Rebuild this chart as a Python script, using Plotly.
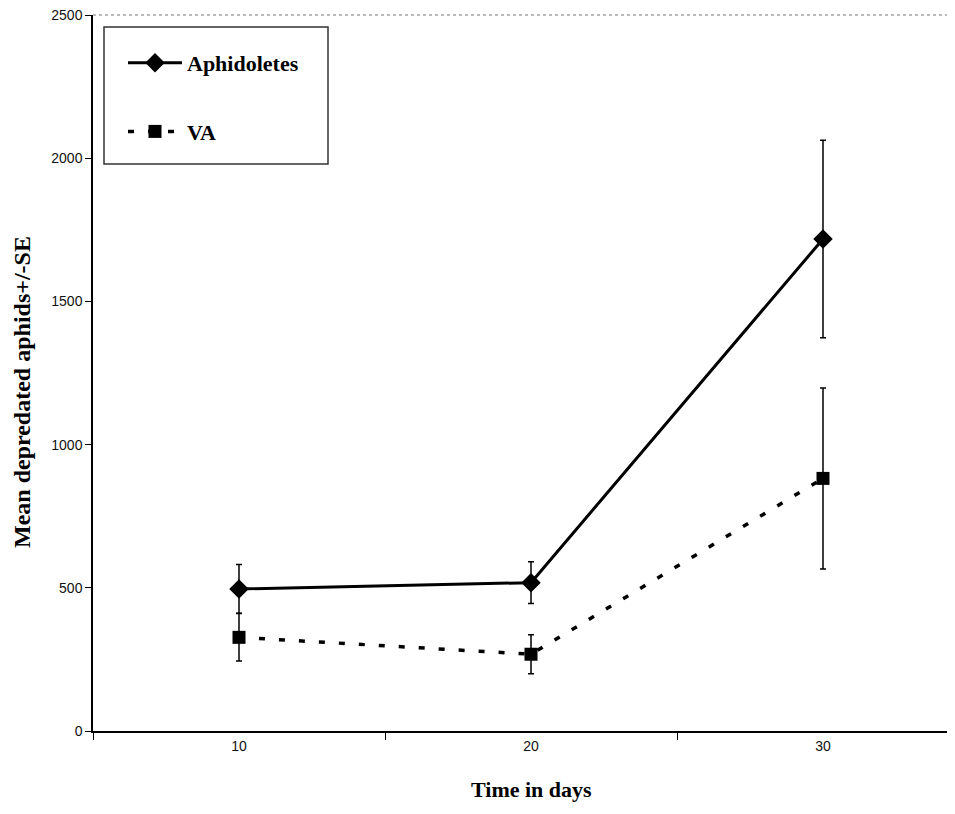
import plotly.graph_objects as go

days = [10, 20, 30]
aphidoletes_mean = [496, 518, 1718]
aphidoletes_se = [85, 73, 345]
va_mean = [327, 268, 882]
va_se = [83, 68, 316]
y_ticks = [0, 500, 1000, 1500, 2000, 2500]
x_labels = ["10", "20", "30"]
minor_x_ticks = [5, 15, 25, 35]

# page body has an 8px margin; figure placed at (8, 8) in the window
OFF = 8
W, H = 955 - 2 * OFF, 814 - 2 * OFF
L, T = 93 - OFF, 15 - OFF
B = H - (731 - OFF)
R = 0
plot_w = W - L - R
plot_h = H - T - B

serif = "Liberation Serif, Times New Roman, serif"
sans = "Liberation Sans, Arial, sans-serif"

def px_x(px):
    return (px - OFF - L) / plot_w

def px_y(py):
    return (H - B - (py - OFF)) / plot_h

fig = go.Figure()
fig.add_trace(go.Scatter(
    x=days, y=aphidoletes_mean, name="Aphidoletes", mode="lines+markers",
    legendgroup="a",
    line=dict(color="black", width=3),
    marker=dict(symbol="diamond", size=15, color="black"),
    error_y=dict(type="data", array=aphidoletes_se, visible=True,
                 color="black", thickness=1.5, width=3),
))
fig.add_trace(go.Scatter(
    x=days, y=va_mean, name="VA", mode="lines+markers",
    legendgroup="b",
    line=dict(color="black", width=3.5, dash="6px,14px"),
    marker=dict(symbol="square", size=13, color="black"),
    error_y=dict(type="data", array=va_se, visible=True,
                 color="black", thickness=1.5, width=3),
))

x0 = 5
x1 = x0 + plot_w / 29.2

fig.update_layout(
    width=W, height=H,
    margin=dict(l=L, r=R, t=T, b=B, pad=0, autoexpand=False),
    paper_bgcolor="white", plot_bgcolor="white",
    showlegend=True,
    legend=dict(
        xref="paper", yref="paper",
        x=px_x(123), y=px_y(42), xanchor="left", yanchor="top",
        bgcolor="rgba(0,0,0,0)", borderwidth=0,
        font=dict(family=serif, size=22, color="black", weight="bold"),
        tracegroupgap=37, traceorder="grouped", itemwidth=54,
    ),
    xaxis=dict(
        range=[x0, x1], showgrid=False, zeroline=False,
        showline=True, linecolor="black", linewidth=2,
        tickmode="array", tickvals=days, ticktext=x_labels, ticks="",
        ticklabelstandoff=1,
        tickfont=dict(family=sans, size=14, color="#111"),
        minor=dict(tickmode="array", tickvals=minor_x_ticks, ticks="outside",
                   ticklen=7, tickwidth=1, tickcolor="black"),
    ),
    yaxis=dict(
        range=[0, 2500], showgrid=False, zeroline=False,
        showline=True, linecolor="black", linewidth=1.5,
        tickmode="array", tickvals=y_ticks, ticks="outside", ticklen=6,
        tickwidth=1, tickcolor="black", ticklabeloverflow="allow",
        tickfont=dict(family=sans, size=14, color="#111"),
    ),
    shapes=[
        dict(type="line", xref="paper", yref="paper", x0=0, x1=1, y0=1, y1=1,
             line=dict(color="#777", width=1, dash="dot")),
        dict(type="rect", xref="paper", yref="paper",
             x0=px_x(104), x1=px_x(328), y0=px_y(164), y1=px_y(27),
             line=dict(color="#333", width=1.5), fillcolor="rgba(0,0,0,0)"),
    ],
    annotations=[
        dict(text="Mean depredated aphids+/-SE", textangle=-90,
             xref="paper", yref="paper", x=px_x(22), y=px_y(392),
             xanchor="center", yanchor="middle", showarrow=False,
             font=dict(family=serif, size=24, color="black", weight="bold")),
        dict(text="Time in days",
             xref="paper", yref="paper", x=px_x(531), y=px_y(804),
             xanchor="center", yanchor="bottom", showarrow=False,
             font=dict(family=serif, size=22, color="black", weight="bold")),
    ],
)

fig.write_html("out.html")
